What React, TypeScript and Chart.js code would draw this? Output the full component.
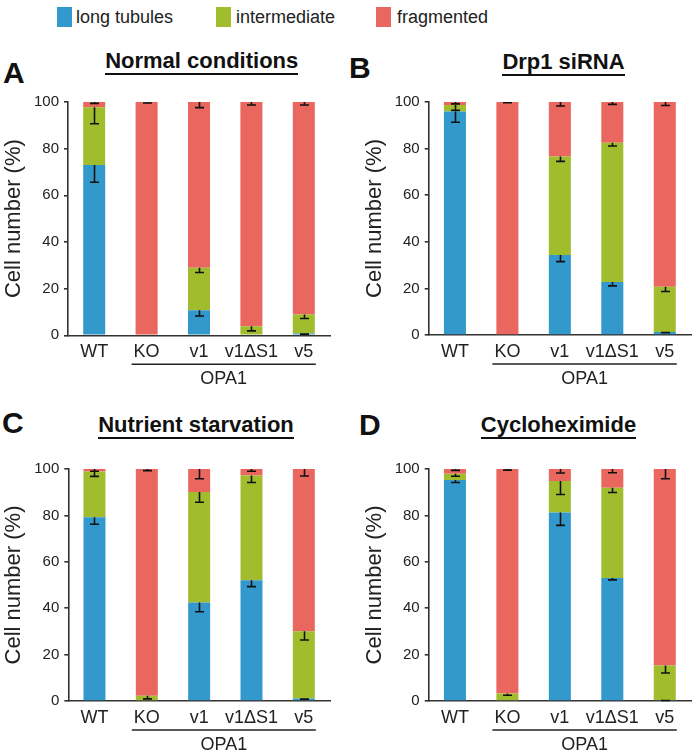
import React, { useEffect, useRef } from "react";
import { Chart, registerables } from "chart.js";

Chart.register(...registerables);

const FONT = "'Liberation Sans', Arial, Helvetica, sans-serif";

const categories = ["WT", "KO", "v1", "v1ΔS1", "v5"];
const seriesNames = ["long tubules", "intermediate", "fragmented"];
const seriesColors = ["#3399CC", "#A1BD2E", "#E9675F"];
const yTicks = [0, 20, 40, 60, 80, 100];
const groupLabel = "OPA1";
const yTitle = "Cell number (%)";

// Panel A – Normal conditions
const normalTubules = [73.0, 0, 10.7, 0, 0.8];
const normalInter = [24.7, 0, 18.3, 3.9, 8.1];
const normalFrag = [2.3, 100, 71.0, 96.1, 91.1];
const normalTubulesErr = [7.4, 0, 2.4, 0, 0.3];
const normalInterErr = [7.0, 0, 2.1, 2.0, 1.7];
const normalFragErr = [0.6, 0.4, 2.4, 1.3, 1.3];

// Panel B – Drp1 siRNA
const drp1Tubules = [95.9, 0, 34.3, 22.8, 1.3];
const drp1Inter = [2.8, 0, 42.3, 59.7, 19.4];
const drp1Frag = [1.3, 100, 23.4, 17.5, 79.3];
const drp1TubulesErr = [4.6, 0, 2.8, 1.7, 0.3];
const drp1InterErr = [2.3, 0, 2.1, 1.4, 2.0];
const drp1FragErr = [0.8, 0.3, 1.7, 1.0, 1.5];

// Panel C – Nutrient starvation
const starvTubules = [79.2, 0, 42.5, 52.1, 1.1];
const starvInter = [19.7, 2.3, 47.6, 45.1, 29.0];
const starvFrag = [1.1, 97.7, 9.9, 2.8, 69.9];
const starvTubulesErr = [3.0, 0, 4.0, 2.8, 0.3];
const starvInterErr = [2.1, 1.4, 4.4, 3.0, 3.8];
const starvFragErr = [1.0, 0.7, 4.2, 1.0, 3.0];

// Panel D – Cycloheximide
const chxTubules = [95.3, 0, 81.2, 53.0, 0.4];
const chxInter = [2.6, 3.2, 13.6, 38.9, 14.9];
const chxFrag = [2.1, 96.8, 5.2, 8.1, 84.7];
const chxTubulesErr = [1.1, 0, 5.5, 0.8, 0.2];
const chxInterErr = [1.0, 0.7, 5.8, 2.0, 3.2];
const chxFragErr = [0.6, 0.5, 1.7, 1.6, 4.2];

type Panel = {
  letter: string;
  title: string;
  values: number[][];
  errors: number[][];
  left: number;
  top: number;
  width: number;
  height: number;
  axisX: number;
  y100: number;
  y0: number;
  right: number;
  letterX: number;
  letterTop: number;
  titleCenter: number;
  titleTop: number;
};

const panels: Panel[] = [
  {
    letter: "A", title: "Normal conditions",
    values: [normalTubules, normalInter, normalFrag],
    errors: [normalTubulesErr, normalInterErr, normalFragErr],
    left: 0, top: 88, width: 340, height: 305,
    axisX: 68, y100: 98.7, y0: 335.3, right: 330,
    letterX: 3, letterTop: 57.6, titleCenter: 201.7, titleTop: 50.1,
  },
  {
    letter: "B", title: "Drp1 siRNA",
    values: [drp1Tubules, drp1Inter, drp1Frag],
    errors: [drp1TubulesErr, drp1InterErr, drp1FragErr],
    left: 361, top: 88, width: 332, height: 305,
    axisX: 428.7, y100: 98.7, y0: 335, right: 691,
    letterX: 349, letterTop: 52.9, titleCenter: 563.5, titleTop: 51.4,
  },
  {
    letter: "C", title: "Nutrient starvation",
    values: [starvTubules, starvInter, starvFrag],
    errors: [starvTubulesErr, starvInterErr, starvFragErr],
    left: 0, top: 455, width: 340, height: 301,
    axisX: 68.3, y100: 465, y0: 701, right: 330,
    letterX: 2, letterTop: 407.6, titleCenter: 196, titleTop: 414.4,
  },
  {
    letter: "D", title: "Cycloheximide",
    values: [chxTubules, chxInter, chxFrag],
    errors: [chxTubulesErr, chxInterErr, chxFragErr],
    left: 361, top: 455, width: 332, height: 301,
    axisX: 428.7, y100: 465, y0: 701, right: 691,
    letterX: 359, letterTop: 409.6, titleCenter: 558.5, titleTop: 414.4,
  },
];

const errorBarPlugin = {
  id: "errorBars",
  afterDatasetsDraw(chart: any, _args: any, opts: any) {
    const { ctx } = chart;
    const x = chart.scales.x;
    const y = chart.scales.y;
    const errs: number[][] = opts.errors || [];
    ctx.save();
    ctx.strokeStyle = "#111";
    ctx.lineWidth = 1.6;
    chart.data.datasets.forEach((ds: any, d: number) => {
      ds.data.forEach((v: number, i: number) => {
        if (!(v > 0)) return;
        let top = 0;
        for (let k = 0; k <= d; k++) top += chart.data.datasets[k].data[i];
        const e = (errs[d] && errs[d][i]) || 0;
        const px = Math.round(x.getPixelForValue(i)) + 0.5;
        const yt = y.getPixelForValue(top);
        const yb = y.getPixelForValue(top - e);
        ctx.beginPath();
        ctx.moveTo(px, yt);
        ctx.lineTo(px, yb);
        ctx.moveTo(px - 4.5, yb);
        ctx.lineTo(px + 4.5, yb);
        ctx.stroke();
      });
    });
    ctx.restore();
  },
};

const groupPlugin = {
  id: "groupLabel",
  afterDraw(chart: any) {
    const { ctx } = chart;
    const x = chart.scales.x;
    const y = chart.scales.y;
    const x1 = x.getPixelForValue(1) - 15;
    const x2 = x.getPixelForValue(4) + 12;
    const y0 = y.getPixelForValue(0);
    ctx.save();
    ctx.strokeStyle = "#222";
    ctx.lineWidth = 1.6;
    ctx.beginPath();
    ctx.moveTo(x1, y0 + 29);
    ctx.lineTo(x2, y0 + 29);
    ctx.stroke();
    ctx.fillStyle = "#222";
    ctx.font = `18px ${FONT}`;
    ctx.textAlign = "center";
    ctx.textBaseline = "middle";
    ctx.fillText(groupLabel, (x1 + x2) / 2, y0 + 44);
    ctx.restore();
  },
};

function PanelChart({ p }: { p: Panel }) {
  const ref = useRef<HTMLCanvasElement>(null);
  useEffect(() => {
    if (!ref.current) return;
    const yW = p.axisX - p.left;
    const xH = p.top + p.height - p.y0;
    const chart = new Chart(ref.current, {
      type: "bar",
      data: {
        labels: categories,
        datasets: seriesNames.map((name, i) => ({
          label: name,
          data: p.values[i],
          backgroundColor: seriesColors[i],
          borderWidth: 0,
          barPercentage: 0.42,
          categoryPercentage: 1,
        })),
      },
      options: {
        responsive: false,
        animation: false,
        devicePixelRatio: 1,
        layout: {
          padding: {
            left: 0,
            top: p.y100 - p.top,
            right: p.left + p.width - p.right,
            bottom: 0,
          },
        },
        plugins: {
          legend: { display: false },
          tooltip: { enabled: false },
          errorBars: { errors: p.errors },
        } as any,
        scales: {
          x: {
            stacked: true,
            grid: { display: false, drawTicks: false },
            border: { display: true, color: "#333", width: 1.6 },
            ticks: {
              font: { size: 18, family: FONT },
              color: "#222",
              padding: 6,
              maxRotation: 0,
              autoSkip: false,
            },
            afterFit: (s: any) => {
              s.height = xH;
            },
          },
          y: {
            stacked: true,
            min: 0,
            max: 100,
            afterBuildTicks: (s: any) => {
              s.ticks = yTicks.map((v) => ({ value: v }));
            },
            ticks: {
              font: { size: 15, family: FONT },
              color: "#222",
              padding: 5,
            },
            grid: {
              display: true,
              drawOnChartArea: false,
              drawTicks: true,
              tickLength: 4,
              color: "#333",
              lineWidth: 1.6,
            },
            border: { display: true, color: "#333", width: 1.6 },
            title: {
              display: true,
              text: yTitle,
              font: { size: 22, family: FONT },
              color: "#222",
              padding: { top: 1, bottom: 0 },
            },
            afterFit: (s: any) => {
              s.width = yW;
            },
          },
        },
      },
      plugins: [errorBarPlugin, groupPlugin],
    } as any);
    return () => chart.destroy();
  }, [p]);
  return (
    <canvas
      ref={ref}
      width={p.width}
      height={p.height}
      style={{ position: "absolute", left: p.left, top: p.top, width: p.width, height: p.height }}
    />
  );
}

const legendPos = [
  { box: 57, text: 76 },
  { box: 216, text: 236 },
  { box: 376, text: 397 },
];

export default function App() {
  return (
    <div
      style={{
        position: "absolute",
        left: 0,
        top: 0,
        width: 693,
        height: 756,
        background: "#fff",
        fontFamily: FONT,
        color: "#222",
        overflow: "hidden",
      }}
    >
      {seriesNames.map((name, i) => (
        <React.Fragment key={name}>
          <div
            style={{
              position: "absolute",
              left: legendPos[i].box,
              top: 7,
              width: 15,
              height: 20,
              background: seriesColors[i],
            }}
          />
          <div
            style={{
              position: "absolute",
              left: legendPos[i].text,
              top: 7,
              height: 20,
              lineHeight: "20px",
              fontSize: 18,
              whiteSpace: "nowrap",
            }}
          >
            {name}
          </div>
        </React.Fragment>
      ))}
      {panels.map((p) => (
        <React.Fragment key={p.letter}>
          <div
            style={{
              position: "absolute",
              left: p.letterX,
              top: p.letterTop,
              fontSize: 30,
              lineHeight: "30px",
              fontWeight: "bold",
              color: "#111",
            }}
          >
            {p.letter}
          </div>
          <div
            style={{
              position: "absolute",
              left: p.titleCenter - 150,
              width: 300,
              top: p.titleTop,
              textAlign: "center",
            }}
          >
            <span
              style={{
                display: "inline-block",
                fontSize: 22,
                lineHeight: "22px",
                fontWeight: "bold",
                color: "#111",
                paddingBottom: 1,
                borderBottom: "2px solid #111",
                whiteSpace: "nowrap",
              }}
            >
              {p.title}
            </span>
          </div>
          <PanelChart p={p} />
        </React.Fragment>
      ))}
    </div>
  );
}
